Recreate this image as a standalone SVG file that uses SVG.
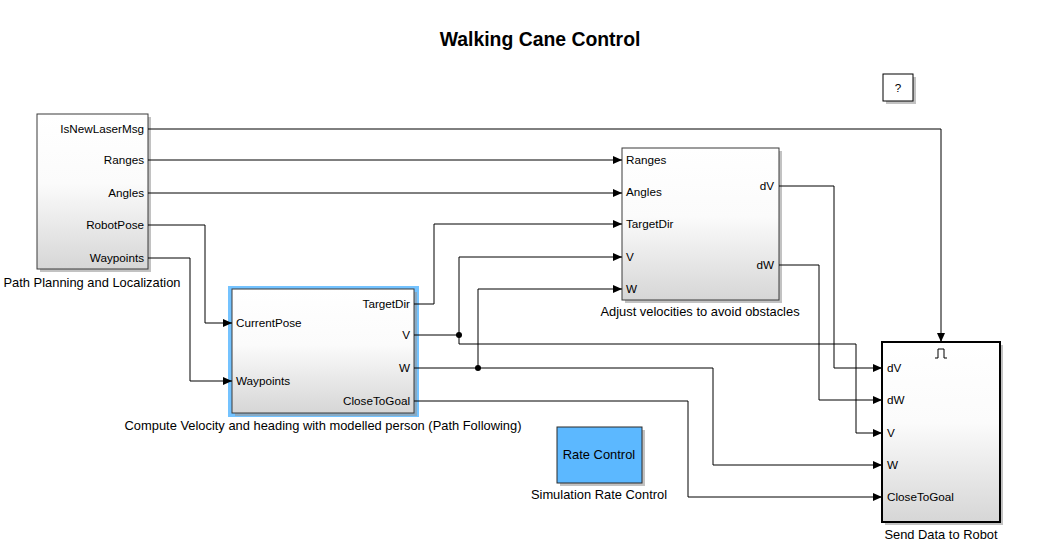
<svg xmlns="http://www.w3.org/2000/svg" width="1038" height="560" viewBox="0 0 1038 560">
<style>
text{font-family:"Liberation Sans",Arial,sans-serif;fill:#000}
.p{font-size:11.7px}
.lab{font-size:12.9px;text-anchor:middle}
.r{text-anchor:end}
.blk{stroke:#3a3a3a;stroke-width:1;fill:url(#g)}
.sh{fill:#9a9a9a;opacity:0.6}
.w{fill:none;stroke:#000;stroke-width:1}
</style>
<defs>
<linearGradient id="g" x1="0" y1="0" x2="0" y2="1">
<stop offset="0" stop-color="#ffffff"/>
<stop offset="0.45" stop-color="#fbfbfb"/>
<stop offset="1" stop-color="#d6d6d6"/>
</linearGradient>
<marker id="a" markerWidth="9" markerHeight="8" refX="9" refY="4" orient="auto" markerUnits="userSpaceOnUse">
<path d="M0,0 L9,4 L0,8 Z" fill="#000"/>
</marker>
</defs>
<rect width="1038" height="560" fill="#fff"/>
<text x="540" y="46" style="font-size:19.4px;font-weight:bold;text-anchor:middle">Walking Cane Control</text>

<g id="help">
<rect x="886" y="77" width="30" height="27" class="sh"/>
<rect x="883" y="74" width="30" height="27" fill="#fff" stroke="#000"/>
<text x="898" y="92" class="p" style="text-anchor:middle">?</text>
</g>

<g id="pathPlanning">
<rect x="40" y="117" width="111" height="155" class="sh"/>
<rect x="37" y="114" width="111" height="155" class="blk"/>
<text x="144" y="133" class="p r">IsNewLaserMsg</text>
<text x="144" y="164" class="p r">Ranges</text>
<text x="144" y="197" class="p r">Angles</text>
<text x="144" y="229" class="p r">RobotPose</text>
<text x="144" y="262" class="p r">Waypoints</text>
<text x="92" y="287" class="lab">Path Planning and Localization</text>
</g>

<g id="computeVelocity">
<rect x="228" y="286" width="191" height="131" fill="#5cb8ff" opacity="0.85"/>
<rect x="235" y="292" width="182" height="124" class="sh"/>
<rect x="232" y="289" width="182" height="124" class="blk"/>
<text x="410" y="308" class="p r">TargetDir</text>
<text x="236" y="327" class="p">CurrentPose</text>
<text x="410" y="339" class="p r">V</text>
<text x="410" y="372" class="p r">W</text>
<text x="236" y="385" class="p">Waypoints</text>
<text x="410" y="405" class="p r">CloseToGoal</text>
<text x="323" y="430" class="lab">Compute Velocity and heading with modelled person (Path Following)</text>
</g>

<g id="adjustVelocities">
<rect x="625" y="151" width="157" height="152" class="sh"/>
<rect x="622" y="148" width="157" height="152" class="blk"/>
<text x="626" y="164" class="p">Ranges</text>
<text x="626" y="196" class="p">Angles</text>
<text x="626" y="228" class="p">TargetDir</text>
<text x="626" y="261" class="p">V</text>
<text x="626" y="293" class="p">W</text>
<text x="774" y="190" class="p r">dV</text>
<text x="774" y="269" class="p r">dW</text>
<text x="700" y="316" class="lab">Adjust velocities to avoid obstacles</text>
</g>

<g id="rateControl">
<rect x="560" y="430" width="85" height="56" class="sh"/>
<rect x="557" y="427" width="85" height="56" fill="#5cb8ff" stroke="#2a2a2a"/>
<text x="599" y="459" class="lab">Rate Control</text>
<text x="599" y="499" class="lab">Simulation Rate Control</text>
</g>

<g id="sendData">
<rect x="885" y="345" width="118" height="180" class="sh"/>
<rect x="882" y="342" width="118" height="180" class="blk" style="stroke:#000;stroke-width:2"/>
<path d="M935,358 L938,358 L938,349 L944,349 L944,358 L947,358" class="w"/>
<text x="887" y="372" class="p">dV</text>
<text x="887" y="404" class="p">dW</text>
<text x="887" y="437" class="p">V</text>
<text x="887" y="469" class="p">W</text>
<text x="887" y="501" class="p">CloseToGoal</text>
<text x="941" y="539" class="lab">Send Data to Robot</text>
</g>

<g id="connectors">
<path d="M148,129 H941 V342" class="w" marker-end="url(#a)"/>
<path d="M148,160 H622" class="w" marker-end="url(#a)"/>
<path d="M148,193 H622" class="w" marker-end="url(#a)"/>
<path d="M148,225 H205 V323 H232" class="w" marker-end="url(#a)"/>
<path d="M148,258 H190 V381 H232" class="w" marker-end="url(#a)"/>
<path d="M414,304 H434 V224 H622" class="w" marker-end="url(#a)"/>
<path d="M414,335 H459 V257 H622" class="w" marker-end="url(#a)"/>
<path d="M459,335 V344 H856 V433 H882" class="w" marker-end="url(#a)"/>
<path d="M414,368 H478 V289 H622" class="w" marker-end="url(#a)"/>
<path d="M478,368 H713 V465 H882" class="w" marker-end="url(#a)"/>
<path d="M414,401 H688 V497 H882" class="w" marker-end="url(#a)"/>
<path d="M779,186 H834 V368 H882" class="w" marker-end="url(#a)"/>
<path d="M779,265 H819 V400 H882" class="w" marker-end="url(#a)"/>
<circle cx="459" cy="335" r="3" fill="#000"/>
<circle cx="478" cy="368" r="3" fill="#000"/>
</g>
</svg>
